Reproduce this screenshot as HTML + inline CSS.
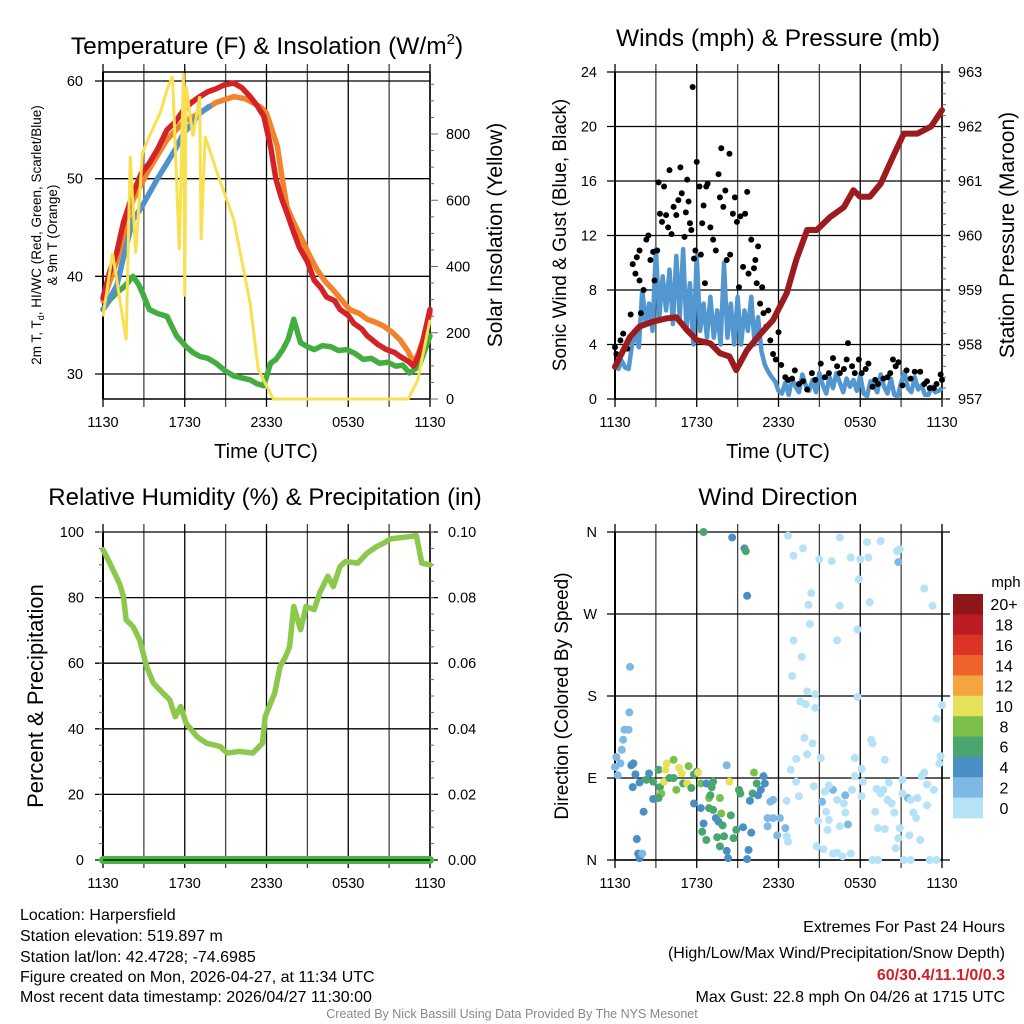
<!DOCTYPE html>
<html><head><meta charset="utf-8">
<style>
html,body{margin:0;padding:0;background:#fff;}
svg{display:block;font-family:"Liberation Sans",sans-serif;}
.ft{font-family:"Liberation Sans Narrow","Liberation Sans",sans-serif;font-size:16px;}
</style></head>
<body>
<svg id="fig" width="1024" height="1024" viewBox="0 0 1024 1024" xmlns="http://www.w3.org/2000/svg">
<text x="267" y="54" font-size="24.5" text-anchor="middle">Temperature (F) &amp; Insolation (W/m<tspan dy="-10" font-size="15">2</tspan><tspan dy="10">)</tspan></text>
<text x="778" y="46" font-size="24.5" text-anchor="middle">Winds (mph) &amp; Pressure (mb)</text>
<text x="265" y="505" font-size="24" text-anchor="middle">Relative Humidity (%) &amp; Precipitation (in)</text>
<text x="778" y="505" font-size="24.5" text-anchor="middle">Wind Direction</text>
<g id="layer"></g>
<g class="ft">
<text x="20" y="920">Location: Harpersfield</text>
<text x="20" y="941">Station elevation: 519.897 m</text>
<text x="20" y="962">Station lat/lon: 42.4728; -74.6985</text>
<text x="20" y="982">Figure created on Mon, 2026-04-27, at 11:34 UTC</text>
<text x="20" y="1002">Most recent data timestamp: 2026/04/27 11:30:00</text>
</g>
<g class="ft" text-anchor="end">
<text x="1005" y="932">Extremes For Past 24 Hours</text>
<text x="1005" y="958">(High/Low/Max Wind/Precipitation/Snow Depth)</text>
<text x="1005" y="980" fill="#d0202a" font-weight="bold">60/30.4/11.1/0/0.3</text>
<text x="1005" y="1002">Max Gust: 22.8 mph On 04/26 at 1715 UTC</text>
</g>
<text x="512" y="1018" font-size="12.5" fill="#888" text-anchor="middle" font-family="Liberation Sans Narrow, Liberation Sans, sans-serif">Created By Nick Bassill Using Data Provided By The NYS Mesonet</text>
</svg>
<script>
// ---------- DATA ----------
const timeLabels = ["1130","1730","2330","0530","1130"];
const tempTicks = [30,40,50,60];
const solarTicks = [0,200,400,600,800];
const windTicks = [0,4,8,12,16,20,24];
const presTicks = [957,958,959,960,961,962,963];
const rhTicks = [0,20,40,60,80,100];
const precipTicks = ["0.00","0.02","0.04","0.06","0.08","0.10"];
const dirTicks = ["N","E","S","W","N"];
const cbLabels = ["20+","18","16","14","12","10","8","6","4","2","0"];

const tempHours = [0,0.5,1,1.5,2.2,2.8,3.4,4.0,4.7,5.3,5.9,6.5,7.1,7.7,8.3,8.9,9.6,10.2,10.8,11.3,11.8,12.3,12.7,13.1,13.5,14.0,14.4,15.0,15.5,16.0,16.4,17.0,17.4,18.0,18.4,19.0,19.4,20.2,20.8,21.4,21.8,22.4,22.8,23.2,23.5,24];
const tempVals  = [37.8,40.5,42.4,45.5,48.5,50.5,51.6,53.0,55,55.8,57,57.8,58.4,58.9,59.2,59.6,59.8,59.3,58.4,57.5,56.4,53.3,49.9,48.0,46.5,44.5,43,41.5,39.6,38.8,37.9,37.5,36.6,36.0,35.2,34.6,33.9,33.0,32.5,32.2,31.8,31.3,30.8,32.0,33.5,36.6];
const t9Hours = [0,1,2.2,3.4,4.7,5.9,7.1,8.3,9.6,10.4,11.1,11.6,12,12.4,12.8,13.1,13.5,14.0,14.5,15.1,15.7,16.3,16.9,17.5,18.1,18.8,19.4,20.0,20.6,21.2,21.8,22.4,22.8,23.2,23.5,24];
const t9Vals  = [37.5,41.5,47.8,51,54,55.8,56.7,57.8,58.4,58.2,57.7,57.3,56.7,55,53.3,50.5,47.1,45.5,44.1,42.3,40.7,39.5,38.6,37.6,36.6,36.2,35.6,35.3,34.9,34.3,33.5,32.3,31.1,32.3,33.5,36.3];
const wcHours = [0,0.5,1,1.6,2.2,2.8,3.4,4.0,4.7,5.3,5.9,6.5,7.1,7.8];
const wcVals  = [36.6,37.8,39,42.5,45.8,47,48.5,50,51.6,53,54.6,55.6,56.7,57.4];
const tdHours = [0,0.5,1,1.6,2.2,2.6,2.9,3.4,4.0,4.7,5.4,6.1,6.6,7.1,7.7,8.3,9.0,9.6,10.2,10.8,11.3,11.8,12.3,12.7,13.2,13.6,14,14.5,15.0,15.5,16.1,16.7,17.3,17.9,18.5,19.1,19.7,20.3,20.9,21.5,22.0,22.5,23.2,24];
const tdVals  = [36.6,37.6,38.3,39.0,40,39.2,38.3,36.6,36.2,35.9,33.9,32.8,32.2,31.8,31.6,31.1,30.3,29.8,29.6,29.4,29.0,28.8,31.1,31.5,32.5,33.6,35.6,33.2,32.8,32.5,32.9,32.8,32.4,32.5,32.1,31.5,31.6,31.1,31.2,30.8,30.9,30.1,30.8,33.9];
const solarHours = [0,0.7,1.7,2,2.4,2.9,3.4,4.2,4.7,5.1,5.6,5.9,6.0,6.1,6.6,7.1,7.2,7.5,8.3,9.6,10.8,11.4,12.5,22.4,23.1,24];
const solarVals  = [249,440,178,733,440,743,793,864,934,974,450,984,309,944,793,914,480,793,692,541,289,88,0,0,57,239];

const presHours = [0,1.1,1.8,2.8,3.8,4.5,5.3,6,7,7.7,8.4,8.9,9.7,10.7,11.6,12.6,13.3,14.1,14.8,15.8,16.8,17.5,18,18.7,19.5,20.5,21.2,22.2,23.2,24];
const presVals  = [957.59,958.14,958.33,958.42,958.48,958.5,958.26,958.08,958.02,957.84,957.78,957.53,957.9,958.2,958.45,958.94,959.55,960.1,960.1,960.34,960.52,960.83,960.71,960.71,960.95,961.5,961.87,961.87,962,962.3];
const windVals = [2.5,2.2,2.8,2.3,2.2,4.0,4.8,3.8,8.0,5.5,7.0,5.0,11.0,6.0,9.0,6.5,9.5,5.5,10.5,6.0,11.0,5.0,8.5,4.0,10.5,5.0,7.0,4.5,7.5,4.5,6.5,4.0,10.0,4.5,7.0,4.0,7.5,4.0,6.5,5.0,7.5,4.0,6.0,3.5,2.5,2.0,1.6,1.3,0.6,0.4,1.2,0.3,1.5,0.9,0.5,1.8,1.0,0.6,1.4,0.5,1.9,1.0,0.4,1.6,0.8,1.9,1.2,0.5,1.5,0.9,1.4,0.6,1.7,0.4,0.2,1.3,1.0,0.5,1.8,0.9,0.4,1.5,0.3,0.2,1.2,2.0,0.8,0.5,1.6,0.7,1.0,0.3,0.3,0.9,0.5,0.6,0.8];
const gustHours = [0,0.1,0.4,0.6,0.9,1.15,1.3,1.5,1.6,1.8,1.8,1.9,2.1,2.3,2.45,2.6,2.8,2.9,3.1,3.2,3.3,3.45,3.6,3.75,3.9,4.0,4.15,4.3,4.5,4.65,4.8,4.9,5.1,5.2,5.3,5.4,5.5,5.6,5.7,5.8,5.9,6.0,6.2,6.3,6.4,6.5,6.6,6.7,6.8,7.0,7.2,7.4,7.6,7.7,7.8,7.95,8.1,8.2,8.4,8.45,8.65,8.8,8.95,9.1,9.2,9.4,9.55,9.7,9.8,10.0,10.2,10.3,10.4,10.5,10.65,10.8,10.9,11.1,11.25,11.4,11.6,11.8,12.0,12.2,12.5,12.7,13.0,13.2,13.5,13.8,14.1,14.45,14.7,15.1,15.4,15.7,16.0,16.3,16.5,16.8,17.0,17.1,17.4,17.6,17.9,18.1,18.4,18.6,18.9,19.1,19.3,19.7,20.0,20.2,20.4,20.6,20.8,21.1,21.4,21.7,22.0,22.4,22.7,22.9,23.1,23.4,23.6,23.9,24];
const gustVals  = [3.8,3.3,4.3,4.8,3.7,6.2,9.9,9.2,10.4,10.9,8.7,6.3,8,11.7,12,10.2,10.8,8.7,10.9,15.9,13.6,13,15.6,13.5,12.6,16.8,12.1,14.1,13.5,14.6,17,15.1,11.9,13.7,16.1,14.5,12.9,12.4,22.9,10.3,10.9,17.4,15.6,10.6,12.9,14.2,8.5,15.6,15.8,12.6,11.7,10.9,16.5,14.8,18.4,14.1,15.3,10.2,18,10.6,13.6,14.8,13,8.2,13.4,9.7,13.6,15.2,9.2,11.7,9.6,10.2,8.5,11.2,7,8.2,6.3,5.3,6.5,4.3,3.3,2.9,4.9,2.5,1.6,1.4,1.5,2.1,1.1,1.3,0.7,1.9,1.4,2.6,1.6,1.9,3.0,2.4,1.9,2.2,2.9,4.1,2.4,1.9,2.9,1.9,2.2,2.6,0.9,1.4,1.1,1.5,1.6,1.9,2.9,2.4,2.7,1.0,2.1,1.5,2.0,2.0,1.1,1.3,0.8,0.8,1.1,1.8,1.4];

const rhHours = [0,0.5,1.2,1.5,1.7,2.2,2.7,3.2,3.7,4.4,4.9,5.3,5.7,6.1,6.9,7.6,8.6,9.1,10.0,11.0,11.7,11.9,12.6,13.0,13.4,13.7,14.0,14.5,14.9,15.5,15.9,16.5,16.9,17.4,17.8,18.7,19.4,20.1,20.6,21.1,22.3,23.0,23.4,24];
const rhVals  = [94.6,90.5,84.4,80.4,73.2,71.2,67,59,53.9,50.9,48.8,43.7,46.8,41.7,37.6,35.6,34.6,32.6,33.1,32.6,35.6,43.7,50.9,59,62,65.1,77.3,70.2,77.3,76.3,81.4,86.5,83.4,89.5,91,90.5,93.6,95.6,96.6,97.9,98.5,98.9,90.5,90];
const precipHours = [0,24];
const precipVals = [0,0];

const dirHours = [0,0.4,0.2,0.1,0.5,0.6,0.7,1.0,1.05,1.1,1.2,1.35,1.5,1.3,1.8,2.1,1.6,1.7,1.8,2.0,2.5,2.8,
 2.3,2.8,3.2,3.3,3.4,3.2,3.6,3.8,3.7,4.0,4.3,4.3,4.5,4.7,4.9,5.0,5.3,5.4,5.6,5.8,6.0,6.1,6.3,5.8,6.3,6.7,7.2,7.1,6.9,7.0,6.9,7.2,7.4,7.8,7.7,7.6,6.5,6.4,6.7,7.5,7.9,8.0,7.7,8.2,8.3,8.2,8.4,8.5,8.7,8.9,9.1,9.2,9.4,9.7,9.8,10.0,9.9,10.1,10.2,10.4,10.5,10.7,10.9,11.0,
 6.5,8.6,9.5,9.6,9.7,
 11.4,11.6,11.2,11.6,12.1,11.2,11.9,12.5,16.0,16.9,17.1,20.8,21.5,15.2,
 12.7,13.1,13.8,15.0,15.9,16.5,17.3,18.0,18.6,18.5,19.5,20.7,20.9,17.9,22.7,23.3,18.7,16.5,14.2,14.4,14.3,17.8,13.1,16.3,13.7,13.0,14.1,14.7,17.8,13.6,14.0,14.7,24.0,23.6,13.9,14.5,18.8,18.9,14.1,13.3,15.1,17.6,19.8,23.9,23.8,12.9,18.1,17.6,22.7,22.5,13.3,14.6,15.7,18.2,19.2,20.1,21.1,22.9,23.4,13.5,12.6,15.4,16.3,16.8,17.4,18.1,19.5,19.7,20.0,20.3,21.1,21.7,22.2,22.9,21.9,22.1,20.5,19.1,16.9,15.5,14.9,15.7,16.5,15.6,19.3,19.8,20.9,21.6,20.8,22.4,20.6,14.8,15.3,16.0,16.3,16.7,17.3,12.7,12.6,18.9,19.3,21.2,21.7,23.1,23.6];
const dirDegs = [102,106,93,113,121,132,143,143,162,212,104,106,94,80,85,53,23,7,2,7,95,67,
 88,86,99,80,73,68,86,106,99,90,90,110,77,101,95,84,84,103,79,94,97,96,84,62,57,84,86,80,68,71,57,55,46,51,68,42,40,31,22,25,38,26,15,10,2,104,86,49,24,33,77,73,36,1,11,30,65,73,96,84,71,77,92,84,
 360,354,342,339,290,
 64,66,46,46,46,37,27,35,77,71,39,327,68,64,
 356,334,342,330,328,354,332,330,332,349,350,339,341,308,298,279,283,279,280,293,259,253,241,241,223,202,185,182,179,174,171,167,170,155,134,128,132,128,116,111,112,112,110,114,106,99,100,92,96,92,86,81,82,86,78,85,88,83,77,70,65,75,66,62,77,70,73,77,66,62,73,66,68,60,52,46,52,53,52,53,43,44,37,33,35,34,35,27,24,22,13,15,12,7,8,4,7,20,26,0,0,0,0,0,0];
const dirSpeeds = [3,3,3,3,3,3,3,3,3,3,5,5,5,5,5,5,5,5,5,3,5,5,
 7,7,7,7,9,7,11,11,11,7,7,9,9,11,11,7,11,9,7,7,7,11,9,5,5,5,7,7,9,7,7,7,5,9,9,5,5,7,7,7,7,7,7,5,5,3,11,7,7,7,7,7,5,5,5,5,5,7,9,7,5,5,5,5,
 7,5,5,7,5,
 3,3,3,3,3,3,3,3,3,3,3,3,3,3,
 1,1,1,1,1,1,1,1,1,1,1,1,1,1,1,1,1,1,1,1,1,1,1,1,1,1,1,1,1,1,1,1,1,1,1,1,1,1,1,1,1,1,1,1,1,1,1,1,1,1,1,1,1,1,1,1,1,1,1,1,1,1,1,1,1,1,1,1,1,1,1,1,1,1,1,1,1,1,1,1,1,1,1,1,1,1,1,1,1,1,1,1,1,1,1,1,1,1,1,1,1,1,1,1,1,1];
const speedBins = [20,18,16,14,12,10,8,6,4,2,0];
const binColors = ["#8f1619","#bb1b22","#dc3328","#ef632b","#f5a540","#e6e05a","#7cc04a","#4aa66f","#4a8ec6","#7db9e4","#b5e2f7"];

// ---------- DRAW ----------
const NS="http://www.w3.org/2000/svg";
const layer=document.getElementById('layer');
function mk(tag,attrs,parent){const e=document.createElementNS(NS,tag);for(const k in attrs)e.setAttribute(k,attrs[k]);(parent||layer).appendChild(e);return e;}
function txt(x,y,s,size,anchor,parent){const t=mk('text',{x:x,y:y,'font-size':size,'text-anchor':anchor||'middle'},parent);t.textContent=s;return t;}
function line(x1,y1,x2,y2,c,w,parent){return mk('line',{x1:x1,y1:y1,x2:x2,y2:y2,stroke:c,'stroke-width':w},parent);}

function panel(name,x0,x1,yT,yB){
  const g=mk('g',{});
  
  
  const xs=h=>x0+(x1-x0)*h/24;
  for(let h=0;h<=24;h+=3){
    const l=line(xs(h),yT-8,xs(h),yB+8,(h%6===0)?'#000':'#444',1.3,g);
    
    
  }
  timeLabels.forEach((s,i)=>{const t=txt(xs(i*6),yB+28,s,14.5,'middle',g);
    
    });
  line(x0,yT,x0,yB,'#000',2,g);
  line(x1,yT,x1,yB,'#000',1.5,g);
  line(x0,yB,x1,yB,'#000',1.5,g);
  return {g,xs};
}

// Panel 1
(function(){
  const x0=103,x1=430,yT=72,yB=399;
  const P=panel('temperature-panel',x0,x1,yT,yB);
  const ty=t=>374-(t-30)*293/30, sy=s=>399-s*265/800;
  line(x0,yT,x1,yT,'#000',1.5,P.g);
  tempTicks.forEach(t=>{line(x0-8,ty(t),x1,ty(t),'#000',1.3,P.g);
    const l=txt(x0-20,ty(t)+5,String(t),14.5,'end',P.g);
    
    });
  for(let s=0;s<=950;s+=50){line(x1,sy(s),x1+(s%200===0?8:4),sy(s),'#666',1,P.g);}
  solarTicks.forEach(s=>{const l=txt(x1+16,sy(s)+5,String(s),14.5,'start',P.g);
    
    });
  const series=[[tdHours,tdVals,'#43ae3f',ty],[t9Hours,t9Vals,'#f2832b',ty],[tempHours,tempVals,'#d42327',ty],[wcHours,wcVals,'#4f93cc',ty]];
  const names=['dewpoint-line','temp-9m-line','temp-2m-line','windchill-line'];
  series.forEach((s,i)=>{const p=mk('polyline',{points:s[0].map((h,j)=>P.xs(h)+','+s[3](s[1][j])).join(' '),fill:'none',stroke:s[2],'stroke-width':5.5,'stroke-linejoin':'round','stroke-linecap':'round'},P.g);
    
    });
  const sp=mk('polyline',{points:solarHours.map((h,j)=>P.xs(h)+','+sy(solarVals[j])).join(' '),fill:'none',stroke:'#f8e050','stroke-width':3},P.g);
  
  
  const a=txt(266,458,'Time (UTC)',20,'middle',P.g);
  
  
  const r=txt(0,0,'Solar Insolation (Yellow)',21,'middle',P.g);r.setAttribute('transform','translate(502,235) rotate(-90)');
  
  
  const l1=mk('text',{'font-size':13.5,'text-anchor':'middle',transform:'translate(41,235) rotate(-90)'},P.g);
  l1.innerHTML='2m T, T<tspan font-size="9" dy="3">d</tspan><tspan dy="-3">, HI/WC (Red, Green, Scarlet/Blue)</tspan>';
  
  
  const l2=txt(0,0,'& 9m T (Orange)',13.5,'middle',P.g);l2.setAttribute('transform','translate(57,235) rotate(-90)');
  
  
})();

// Panel 2
(function(){
  const x0=615,x1=942,yT=72,yB=399;
  const P=panel('winds-panel',x0,x1,yT,yB);
  const wy=w=>399-w*327/24, py=p=>399-(p-957)*327/6;
  windTicks.forEach(w=>{line(x0-8,wy(w),x1+8,wy(w),'#000',1.3,P.g);
    const l=txt(x0-18,wy(w)+5,String(w),14.5,'end',P.g);
    
    });
  for(let p=957;p<=963;p+=0.2){line(x1,py(p),x1+4,py(p),'#666',1,P.g);}
  presTicks.forEach(p=>{const l=txt(x1+16,py(p)+5,String(p),14.5,'start',P.g);
    
    });
  const wl=mk('polyline',{points:windVals.map((v,j)=>P.xs(j*0.25)+','+wy(v)).join(' '),fill:'none',stroke:'#5397d0','stroke-width':4.5,'stroke-linejoin':'round'},P.g);
  
  
  gustHours.forEach((h,j)=>{const c=mk('circle',{cx:P.xs(h),cy:wy(gustVals[j]),r:3,fill:'#000'},P.g);
    
    });
  const pl=mk('polyline',{points:presHours.map((h,j)=>P.xs(h)+','+py(presVals[j])).join(' '),fill:'none',stroke:'#9b1b1e','stroke-width':6,'stroke-linejoin':'round','stroke-linecap':'round'},P.g);
  
  
  const a=txt(778,458,'Time (UTC)',20,'middle',P.g);
  
  
  const l=txt(0,0,'Sonic Wind & Gust (Blue, Black)',19,'middle',P.g);l.setAttribute('transform','translate(566,235) rotate(-90)');
  
  
  const r=txt(0,0,'Station Pressure (Maroon)',21,'middle',P.g);r.setAttribute('transform','translate(1014,235) rotate(-90)');
  
  
})();

// Panel 3
(function(){
  const x0=103,x1=430,yT=532,yB=860;
  const P=panel('humidity-panel',x0,x1,yT,yB);
  const ry=r=>860-r*3.28;
  rhTicks.forEach((r,i)=>{line(x0-8,ry(r),x1+8,ry(r),'#000',1.3,P.g);
    const l=txt(x0-19,ry(r)+5,String(r),14.5,'end',P.g);
    
    
    const q=txt(x1+18,ry(r)+5,precipTicks[i],14.5,'start',P.g);
    
    });
  for(let r=0;r<=100;r+=5){line(x1,ry(r),x1+4,ry(r),'#666',1,P.g);line(x0-4,ry(r),x0,ry(r),'#666',1,P.g);}
  const pr=mk('polyline',{points:precipHours.map((h,j)=>P.xs(h)+','+ry(precipVals[j]*1000)).join(' '),fill:'none',stroke:'#48b445','stroke-width':8,'stroke-linecap':'round'},P.g);
  
  
  line(x0,yB,x1,yB,'#000',1.2,P.g);
  const rl=mk('polyline',{points:rhHours.map((h,j)=>P.xs(h)+','+ry(rhVals[j])).join(' '),fill:'none',stroke:'#8cc84b','stroke-width':5.5,'stroke-linejoin':'round','stroke-linecap':'round'},P.g);
  
  
  const l=txt(0,0,'Percent & Precipitation',22,'middle',P.g);l.setAttribute('transform','translate(43,696) rotate(-90)');
  
  
})();

// Panel 4
(function(){
  const x0=615,x1=942,yT=532,yB=860;
  const P=panel('wind-direction-panel',x0,x1,yT,yB);
  const dy=d=>860-d*328/360;
  dirTicks.forEach((s,i)=>{const d=[0,90,180,270,360][i];line(x0-8,dy(d),x1+8,dy(d),'#000',1.3,P.g);
    const l=txt(x0-18,dy(d)+5,s,14.5,'end',P.g);
    
    });
  function col(s){for(let i=0;i<speedBins.length;i++){if(s>=speedBins[i])return binColors[i];}return binColors[10];}
  dirHours.forEach((h,j)=>{const c=mk('circle',{cx:P.xs(h),cy:dy(dirDegs[j]),r:4,fill:col(dirSpeeds[j])},P.g);
    
    });
  const l=txt(0,0,'Direction (Colored By Speed)',19,'middle',P.g);l.setAttribute('transform','translate(568,696) rotate(-90)');
  
  
  const cb=mk('g',{});
  
  
  const bh=224/11;
  binColors.forEach((c,i)=>{const r=mk('rect',{x:953,y:594+i*bh,width:30,height:bh+0.3,fill:c},cb);
    
    
    const t=txt(1004,594+i*bh+bh/2+6,cbLabels[i],16,'middle',cb);
    
    });
  const u=txt(1006,587,'mph',15,'middle',cb);
  
  
})();
</script>
</body></html>
